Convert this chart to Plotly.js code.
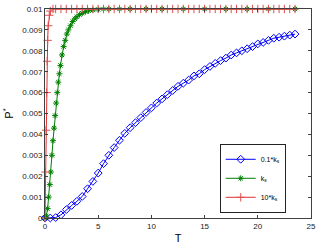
<!DOCTYPE html>
<html>
<head>
<meta charset="utf-8">
<script src="https://cdn.plot.ly/plotly-3.0.1.min.js"></script>
<style>
  html, body { margin: 0; padding: 0; background: #fff; }
  #graph { width: 320px; height: 247px; }
</style>
</head>
<body>
<div id="graph"></div>
<script>
// 0.1*ks curve
const tSlow = [0, 0.5, 1, 1.5, 2, 2.5, 3, 3.5, 4, 4.5, 5, 5.5, 6, 6.5, 7, 7.5, 8, 8.5, 9, 9.5,
  10, 10.5, 11, 11.5, 12, 12.5, 13, 13.5, 14, 14.5, 15, 15.5, 16, 16.5, 17, 17.5, 18, 18.5,
  19, 19.5, 20, 20.5, 21, 21.5, 22, 22.5, 23, 23.5];
const pSlow = [0, 0, 0.00002, 0.00015, 0.0004, 0.0006, 0.0008, 0.00103, 0.0014, 0.00175,
  0.00215, 0.0026, 0.003, 0.00337, 0.00372, 0.00405, 0.00432, 0.00456, 0.0048, 0.00505,
  0.00527, 0.0055, 0.0057, 0.0059, 0.0061, 0.0063, 0.00645, 0.0066, 0.0068, 0.0069,
  0.0071, 0.00725, 0.0074, 0.00753, 0.00765, 0.0078, 0.0079, 0.008, 0.0081, 0.0082,
  0.00833, 0.0084, 0.0085, 0.0086, 0.00865, 0.0087, 0.00875, 0.0088];

// ks curve
const tMid = [0, 0.12, 0.25, 0.35, 0.45, 0.55, 0.65, 0.75, 0.85, 0.95, 1.05, 1.15, 1.25, 1.35,
  1.45, 1.6, 1.75, 1.9, 2.05, 2.2, 2.4, 2.6, 2.8, 3.0, 3.25, 3.5, 3.8, 4.1, 4.5, 5, 5.5, 6,
  7, 8, 9.5, 11, 13, 15, 17, 19, 21, 23.5];
const pMid = [0, 0.0001, 0.00045, 0.001, 0.0016, 0.0022, 0.003, 0.0037, 0.0043, 0.0049,
  0.0055, 0.006, 0.0065, 0.0069, 0.0073, 0.0078, 0.0082, 0.0085, 0.0088, 0.009, 0.0092,
  0.0094, 0.00953, 0.00963, 0.00973, 0.0098, 0.00987, 0.00991, 0.00995, 0.00998, 0.01, 0.01,
  0.01, 0.01, 0.01, 0.01, 0.01, 0.01, 0.01, 0.01, 0.01, 0.01];

// 10*ks curve
const tFast = [0, 0.05, 0.1, 0.15, 0.2, 0.25, 0.3, 0.4, 0.5, 0.75, 1, 1.5, 2, 2.5, 3, 3.5, 4,
  4.5, 5, 5.5, 6, 6.5, 7, 7.5, 8, 8.5, 9, 9.5, 10, 10.5, 11, 11.5, 12, 12.5, 13, 13.5, 14,
  14.5, 15, 15.5, 16, 16.5, 17, 17.5, 18, 18.5, 19, 19.5, 20, 20.5, 21, 21.5, 22, 22.5, 23, 23.5];
const pFast = [0, 0.0022, 0.0042, 0.006, 0.0075, 0.0085, 0.0092, 0.0097, 0.0099, 0.01, 0.01,
  0.01, 0.01, 0.01, 0.01, 0.01, 0.01, 0.01, 0.01, 0.01, 0.01, 0.01, 0.01, 0.01, 0.01, 0.01,
  0.01, 0.01, 0.01, 0.01, 0.01, 0.01, 0.01, 0.01, 0.01, 0.01, 0.01, 0.01, 0.01, 0.01, 0.01,
  0.01, 0.01, 0.01, 0.01, 0.01, 0.01, 0.01, 0.01, 0.01, 0.01, 0.01, 0.01, 0.01, 0.01, 0.01];

const yTickVals = [0, 0.001, 0.002, 0.003, 0.004, 0.005, 0.006, 0.007, 0.008, 0.009, 0.01];
const yTickText = ['0', '0.001', '0.002', '0.003', '0.004', '0.005', '0.006', '0.007', '0.008', '0.009', '0.01'];
const xTickVals = [0, 5, 10, 15, 20, 25];

const traces = [
  {
    x: tSlow, y: pSlow, type: 'scatter', mode: 'lines+markers', name: '0.1*k<sub>s</sub>',
    cliponaxis: false,
    line: { color: '#0000ff', width: 1 },
    marker: { symbol: 'diamond-open', size: 6, color: '#0000ff', line: { width: 1 } }
  },
  {
    x: tMid, y: pMid, type: 'scatter', mode: 'lines+markers', name: 'k<sub>s</sub>',
    cliponaxis: false,
    line: { color: '#008000', width: 1 },
    marker: { symbol: 'asterisk-open', size: 5, color: '#008000', line: { width: 1, color: '#008000' } }
  },
  {
    x: tFast, y: pFast, type: 'scatter', mode: 'lines+markers', name: '10*k<sub>s</sub>',
    cliponaxis: false,
    line: { color: '#e03030', width: 1 },
    marker: { symbol: 'cross-thin-open', size: 6, color: '#e05050', line: { width: 1, color: '#e05050' } }
  }
];

const axisStyle = {
  showline: true, linecolor: '#404040', linewidth: 1, mirror: 'ticks',
  ticks: 'inside', ticklen: 3, tickcolor: '#404040',
  showgrid: false, zeroline: false,
  tickfont: { family: 'Liberation Sans, Arial', size: 8, color: '#222' }
};

const layout = {
  width: 320, height: 247,
  margin: { l: 45, r: 9, t: 9, b: 29 },
  paper_bgcolor: '#fff', plot_bgcolor: '#fff',
  showlegend: true,
  xaxis: Object.assign({}, axisStyle, {
    range: [0, 25], tickvals: xTickVals,
    title: { text: 'T', font: { family: 'Liberation Sans, Arial', size: 11, color: '#000' }, standoff: 4 }
  }),
  yaxis: Object.assign({}, axisStyle, {
    range: [0, 0.01], tickvals: yTickVals, ticktext: yTickText,
    title: { text: 'P<sup>*</sup>', font: { family: 'Liberation Sans, Arial', size: 11, color: '#000' }, standoff: 6 }
  }),
  legend: {
    x: 0.905, y: 0.19, xanchor: 'right', yanchor: 'middle',
    bgcolor: '#fff', bordercolor: '#222', borderwidth: 1,
    font: { family: 'Liberation Sans, Arial', size: 7, color: '#000' },
    itemwidth: 30, tracegroupgap: 0
  }
};

Plotly.newPlot('graph', traces, layout, { displayModeBar: false, staticPlot: true });
</script>
</body>
</html>
